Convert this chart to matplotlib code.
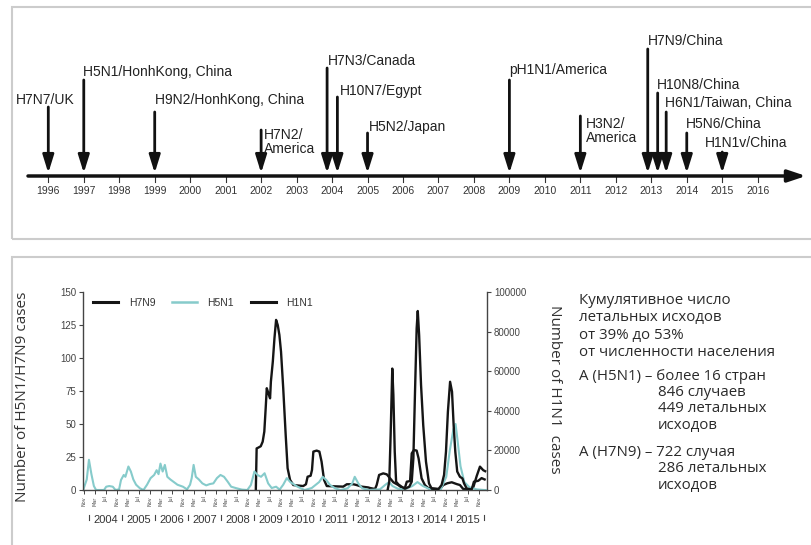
import matplotlib
matplotlib.use("Agg")
import matplotlib.pyplot as plt
from matplotlib.patches import Rectangle
from matplotlib.lines import Line2D
from matplotlib.transforms import blended_transform_factory

W, H, DPI = 811, 545, 100
NARROW = ["Liberation Sans", "DejaVu Sans"]
BODY = ["Open Sans", "DejaVu Sans"]

# ---------------- timeline of emerging influenza strains ----------------
strain_labels = ["H7N7/UK", "H5N1/HonhKong, China", "H9N2/HonhKong, China",
                 "H7N2/\nAmerica", "H7N3/Canada", "H10N7/Egypt", "H5N2/Japan",
                 "pH1N1/America", "H3N2/\nAmerica", "H7N9/China", "H10N8/China",
                 "H6N1/Taiwan, China", "H5N6/China", "H1N1v/China"]
strain_years = [1996.0, 1997.0, 1999.0, 2002.0, 2003.86, 2004.15, 2005.0,
                2009.0, 2011.0, 2012.9, 2013.18, 2013.42, 2014.0, 2015.0]
timeline_years = list(range(1996, 2017))

# ---------------- case counts, x = months since Jan 2004 ----------------
h5n1_month = [-2.3, -1.0, -0.2, 0.7, 1.6, 2.4, 5.3, 6.1, 7.2, 8.5, 9.5, 10.8, 11.5,
              12.5, 13.1, 14.2, 15.1, 16.0, 17.0, 18.4, 19.7, 21.0, 22.3, 23.6,
              24.5, 25.2, 25.9, 26.7, 27.5, 28.4, 29.5, 30.8, 32.1, 34.1, 35.6,
              36.7, 37.3, 38.0, 38.8, 39.9, 41.2, 42.6, 43.9, 45.2, 46.5, 47.8,
              49.1, 50.4, 51.7, 53.7, 55.6, 57.6, 58.9, 60.2, 61.3, 62.6, 63.9,
              65.2, 66.5, 68.1, 69.4, 70.7, 72.0, 73.3, 75.9, 78.5, 81.1, 83.8,
              85.1, 86.4, 87.7, 89.6, 91.6, 94.2, 95.9, 96.8, 98.1, 99.5, 102.0,
              106.0, 108.0, 109.3, 110.6, 112.5, 115.1, 117.8, 119.7, 121.7,
              124.3, 128.2, 130.2, 131.5, 132.8, 133.6, 134.3, 135.4, 136.8,
              138.7, 141.3, 143.9, 145.0]
h5n1_cases = [0, 8, 22.9, 12, 3, 0, 0, 2.5, 3, 2.5, 0, 0.5, 7.6,
              11.4, 10, 17.8, 14, 8, 4, 1.3, 0, 4, 9, 11.4,
              15, 12, 20, 14, 19, 10, 8, 6, 4, 2.5, 0.5,
              4, 9, 19, 10, 8, 5, 3.5, 4.5, 5, 9, 11.4,
              10, 6.4, 2.5, 1.3, 0.3, 0, 3.8, 14, 11.4, 10, 12.7,
              5, 1.5, 2.5, 0.3, 4, 9, 6, 2.5, 0, 1.5, 6,
              10, 7.6, 4, 1.3, 0, 1.3, 5, 10, 5, 1.3, 0,
              0.5, 4, 6, 3, 1, 0.5, 3, 6, 3,
              0.5, 0.5, 10, 30, 46, 50, 38, 18, 6,
              2, 0.5, 0, 0]

h7n9_month = [108.8, 109.4, 109.9, 110.5, 110.9, 111.4, 111.9, 112.7, 113.9, 115.1,
              116.7, 117.6, 118.2, 118.8, 119.4, 119.8, 120.3, 121.0, 121.8,
              122.8, 123.9, 124.9, 127.3, 128.5, 129.4, 130.1, 130.8, 131.6,
              132.3, 132.9, 133.5, 134.2, 135.2, 136.1, 136.7, 137.7, 139.5,
              140.3, 141.9, 143.1, 144.2]
h7n9_cases = [0, 6.3, 41.7, 92, 72, 29, 6.3, 4.3, 2.5, 1,
              2.5, 6.3, 24, 74.5, 122.5, 135.6, 117.4, 79.5, 49,
              21.5, 5, 1, 0.5, 3.8, 11.4, 29, 59.3, 82,
              74.5, 49, 29, 14, 10, 8.8, 5, 1, 0.5,
              6.3, 7, 9, 8]

h1n1_month = [60.7, 61.0, 61.6, 62.5, 63.2, 63.8, 64.3, 64.7, 65.3, 65.9, 66.2,
              66.9, 67.5, 68.1, 68.7, 69.3, 69.9, 70.7, 71.6, 72.3, 73.2, 74.4,
              78.0, 79.0, 79.6, 80.7, 81.2, 81.7, 82.9, 83.9, 84.7, 85.6, 86.6,
              92.6, 93.9, 96.3, 97.5, 99.3, 101.7, 102.4, 104.2, 104.8, 105.7,
              107.2, 108.5, 109.7, 110.9, 112.7, 113.9, 115.1, 115.8, 117.0,
              117.6, 118.4, 119.4, 120.1, 121.2, 122.4, 123.6, 127.9, 129.1,
              130.6, 132.2, 134.0, 135.2, 136.4, 138.9, 140.1, 141.3, 142.5,
              143.7, 144.4]
h1n1_cases = [0, 21000, 21400, 22100, 24400, 29500, 41300, 51400, 48800, 46300, 54700,
              64800, 76600, 85900, 83300, 78300, 69800, 51400, 27800, 11000, 5100, 2500,
              2000, 2900, 6700, 7200, 10100, 19400, 19900, 19400, 14300, 5100, 2000,
              1700, 2900, 2900, 2500, 1700, 1300, 1000, 500, 2500, 7600,
              8400, 7900, 5900, 3900, 2500, 1200, 1000, 4200, 4500,
              18500, 20200, 19900, 16000, 5900, 2500, 1000, 500, 2500,
              3400, 3900, 3000, 2500, 500, 500, 1500, 7000, 11800,
              10000, 9500]

month_ticks = list(range(-2, 143, 4))
month_names = ["Nov", "Mar", "Jul"]
season_years = list(range(2004, 2016))

# ---------------- summary text ----------------
summary_lines = [
    ("Кумулятивное число", 0), ("летальных исходов", 0), ("от 39% до 53%", 0),
    ("от численности населения", 0),
    ("A (H5N1) – более 16 стран", 0), ("846 случаев", 1), ("449 летальных", 1),
    ("исходов", 1),
    ("A (H7N9) – 722 случая", 0), ("286 летальных", 1), ("исходов", 1),
]
summary_y_px = [300, 318, 335, 352, 376, 393, 409, 425, 453, 469, 485]

# ---------------- layout ----------------
arrow_top_px = [107, 80, 112, 130, 68, 97, 133, 80, 116, 49, 93, 112, 133, 152]
label_y_px = [100, 72, 100, 142, 61, 91, 127, 70, 131, 41, 85, 103, 124, 143]
label_dx_px = [-3, -1, 0, 3, 1, 2, 1, 0, 6, 0, -1, -1, -1, -17]
label_ha = ["center"] + ["left"] * 13

PX_PER_YEAR = 35.47
X1996 = 48.3
LINE_Y = 176

fig = plt.figure(figsize=(W / DPI, H / DPI), dpi=DPI)
fig.patch.set_facecolor("white")


def fx(px):
    return px / W


def fy(py):
    return 1 - py / H


# panel frames
frame_kw = dict(transform=fig.transFigure, fill=False, edgecolor="#cccccc", lw=1.5)
fig.patches.append(Rectangle((fx(11.5), fy(239)), fx(820) - fx(11.5), fy(7) - fy(239), **frame_kw))
fig.patches.append(Rectangle((fx(12), fy(560)), fx(820) - fx(12), fy(257) - fy(560), **frame_kw))

# ---------------- top: timeline ----------------
axt = fig.add_axes([0, fy(250), 1, 250 / H])
axt.set_xlim(1996 - X1996 / PX_PER_YEAR, 1996 + (W - X1996) / PX_PER_YEAR)
axt.set_ylim(250, 0)
axt.axis("off")

yr_start = 1996 + (28 - X1996) / PX_PER_YEAR
yr_end = 1996 + (806 - X1996) / PX_PER_YEAR
axt.annotate("", xy=(yr_end, LINE_Y), xytext=(yr_start, LINE_Y),
             arrowprops=dict(arrowstyle="-|>,head_length=0.9,head_width=0.3",
                             lw=2.5, color="#111111", shrinkA=0, shrinkB=0,
                             mutation_scale=12))
for y in timeline_years:
    axt.plot([y, y], [LINE_Y, LINE_Y + 6], color="#333333", lw=0.8)
    axt.text(y, 191, str(y), ha="center", va="center", fontsize=7.5,
             family=NARROW, color="#333333")

for lab, yr, top, ly, dx, ha in zip(strain_labels, strain_years, arrow_top_px,
                                    label_y_px, label_dx_px, label_ha):
    axt.annotate("", xy=(yr, LINE_Y - 3), xytext=(yr, top),
                 arrowprops=dict(arrowstyle="-|>,head_length=0.9,head_width=0.28",
                                 lw=2.0, color="#111111", shrinkA=0, shrinkB=0,
                                 mutation_scale=12))
    axt.text(yr + dx / PX_PER_YEAR, ly, lab, ha=ha, va="center", fontsize=10,
             family=NARROW, color="#222222", linespacing=1.0)

# ---------------- bottom: case counts ----------------
ax = fig.add_axes([fx(83), fy(490), (487 - 83) / W, (490 - 292) / H])
ax2 = ax.twinx()
ax.set_xlim(-2.37, 145.07)
ax.set_ylim(0, 150)
ax2.set_ylim(0, 100000)

ax.plot(h5n1_month, h5n1_cases, color="#86cbcb", lw=1.5, zorder=2)
ax.plot(h7n9_month, h7n9_cases, color="#151515", lw=1.7, zorder=3)
ax2.plot(h1n1_month, h1n1_cases, color="#151515", lw=1.7, zorder=3)
ax.set_zorder(ax2.get_zorder() + 1)
ax.patch.set_visible(False)

for a in (ax, ax2):
    a.spines["top"].set_visible(False)
    for s in ("left", "right", "bottom"):
        a.spines[s].set_color("#444444")
        a.spines[s].set_linewidth(1.0)
ax.spines["right"].set_visible(False)
ax2.spines["left"].set_visible(False)
ax2.spines["bottom"].set_visible(False)

ax.set_yticks(range(0, 151, 25))
ax2.set_yticks(range(0, 100001, 20000))
ax.tick_params(axis="y", length=3, width=0.8, labelsize=7, colors="#444444", pad=2)
ax2.tick_params(axis="y", length=3, width=0.8, labelsize=7, colors="#444444", pad=2)
for t in ax.get_yticklabels() + ax2.get_yticklabels():
    t.set_family(NARROW)

ax.set_xticks(month_ticks)
ax.set_xticklabels([month_names[i % 3] for i in range(len(month_ticks))],
                   rotation=90, fontsize=3.5, color="#555555")
ax.tick_params(axis="x", length=3, width=0.7, colors="#444444", pad=1.5)

# season brackets under the month ticks
tb = blended_transform_factory(ax.transData, ax.transAxes)
for yr in season_years + [2016]:
    m = (yr - 2004) * 12
    ax.plot([m, m], [-0.125, -0.150], transform=tb, color="#444444", lw=0.8, clip_on=False)
for yr in season_years:
    m = (yr - 2004) * 12 + 6
    ax.text(m, -0.153, str(yr), transform=tb, ha="center", va="center",
            fontsize=8, family=NARROW, color="#333333")

ax.set_ylabel("Number of H5N1/H7N9 cases", fontsize=11, family=BODY, color="#333333")
ax.yaxis.set_label_coords(-0.131, 0.47)
ax2.set_ylabel("Number of H1N1  cases", fontsize=11, family=BODY, color="#333333",
               rotation=-90, va="center")
ax2.yaxis.set_label_coords(1.168, 0.51)

handles = [Line2D([], [], color="#151515", lw=2.2),
           Line2D([], [], color="#86cbcb", lw=1.8),
           Line2D([], [], color="#151515", lw=2.2)]
leg = ax.legend(handles, ["H7N9", "H5N1", "H1N1"], loc="center left",
                bbox_to_anchor=(0.015, 0.946), ncol=3, frameon=False,
                handlelength=2.4, handletextpad=1.0, columnspacing=1.6,
                prop=dict(family=NARROW, size=7.5), borderaxespad=0)
for t in leg.get_texts():
    t.set_color("#333333")

# summary block
for (txt, indent), py in zip(summary_lines, summary_y_px):
    fig.text(fx(579 + 79 * indent), fy(py), txt, ha="left", va="center",
             fontsize=10.8, family=BODY, color="#2a2a2a")

fig.savefig("out.png", dpi=DPI)
